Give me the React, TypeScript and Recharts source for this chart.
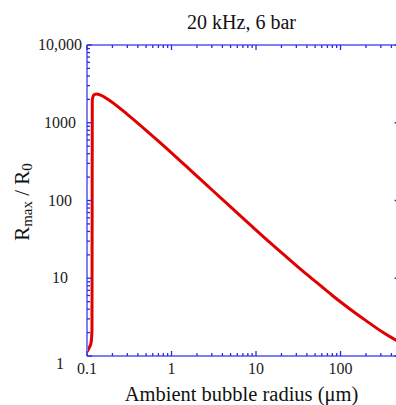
import React from "react";
import { LineChart, Line, XAxis, YAxis } from "recharts";

// bubble radius (um) and Rmax/R0
const radius = [0.1, 0.103, 0.108, 0.112, 0.1145, 0.1155, 0.118, 0.122, 0.13, 0.145, 0.165, 0.2, 0.3, 0.5, 0.75, 1, 1.5, 2, 3, 5, 8.5, 15, 21, 35, 53, 80, 130, 200, 320, 454, 500];
const ratio = [1.13, 1.2, 1.33, 1.5, 2.2, 1950, 2180, 2300, 2340, 2260, 2100, 1825, 1283, 800, 543, 410, 274, 206, 137.5, 82.8, 49, 28.1, 20.4, 12.6, 8.7, 6.0, 4.0, 2.85, 2.0, 1.59, 1.49];

const xMajor = [0.1, 1, 10, 100];
const xMajorLabels = ["0.1", "1", "10", "100"];
const xMinor = [0.2, 0.3, 0.4, 0.5, 0.6, 0.7, 0.8, 0.9, 2, 3, 4, 5, 6, 7, 8, 9, 20, 30, 40, 50, 60, 70, 80, 90, 200, 300, 400];
const yMajor = [1, 10, 100, 1000, 10000];
const yMajorLabels = ["1", "10", "100", "1000", "10,000"];
const yMinor = [2, 3, 4, 5, 6, 7, 8, 9, 20, 30, 40, 50, 60, 70, 80, 90, 200, 300, 400, 500, 600, 700, 800, 900, 2000, 3000, 4000, 5000, 6000, 7000, 8000, 9000];

const data = radius.map((r, i) => ({ r, v: ratio[i] }));

const FONT = "'Liberation Serif', 'Times New Roman', serif";
const AXIS = "#7f7ff2";
const TICK = "#2a2ae2";
const xTicks = [...xMajor, ...xMinor].sort((a, b) => a - b);
const yTicks = [...yMajor, ...yMinor].sort((a, b) => a - b);

const BottomTick = (props: any) => {
    const { x, y, payload } = props;
    const idx = xMajor.indexOf(payload.value);
    const len = idx >= 0 ? 5 : 3;
    return (
        <g>
            <line x1={x} y1={y} x2={x} y2={y - len} stroke={TICK} strokeWidth={1.3} />
            {idx >= 0 && (
                <text x={x} y={374} textAnchor="middle" fontFamily={FONT} fontSize={16} fill="#222">
                    {xMajorLabels[idx]}
                </text>
            )}
        </g>
    );
};

const TopTick = (props: any) => {
    const { x, y, payload } = props;
    const len = xMajor.includes(payload.value) ? 5 : 3;
    return <line x1={x} y1={y} x2={x} y2={y + len} stroke={TICK} strokeWidth={1.3} />;
};

const LeftTick = (props: any) => {
    const { x, y, payload } = props;
    const idx = yMajor.indexOf(payload.value);
    const len = idx >= 0 ? 5 : 3;
    return (
        <g>
            <line x1={x} y1={y} x2={x + len} y2={y} stroke={TICK} strokeWidth={1.3} />
            {idx >= 0 && (
                <text
                    x={60}
                    y={idx === 0 ? y + 13 : y + 5}
                    textAnchor="middle"
                    fontFamily={FONT}
                    fontSize={16}
                    fill="#222"
                >
                    {yMajorLabels[idx]}
                </text>
            )}
        </g>
    );
};

const RightTick = (props: any) => {
    const { x, y, payload } = props;
    const len = yMajor.includes(payload.value) ? 5 : 3;
    return <line x1={x} y1={y} x2={x - len} y2={y} stroke={TICK} strokeWidth={1.3} />;
};

export default function App() {
    return (
        <div
            style={{
                position: "absolute",
                left: 0,
                top: 0,
                width: 396,
                height: 405,
                overflow: "hidden",
                background: "#fff",
            }}
        >
            <LineChart
                width={420}
                height={405}
                data={data}
                margin={{ top: 44, left: 86, right: 19.4, bottom: 48 }}
            >
                <XAxis
                    xAxisId="b"
                    dataKey="r"
                    type="number"
                    scale="log"
                    domain={[0.1, 500]}
                    allowDataOverflow
                    ticks={xTicks}
                    interval={0}
                    height={1}
                    tickSize={0}
                    tickMargin={0}
                    tickLine={false}
                    tick={<BottomTick />}
                    axisLine={{ stroke: AXIS, strokeWidth: 2 }}
                />
                <XAxis
                    xAxisId="t"
                    orientation="top"
                    dataKey="r"
                    type="number"
                    scale="log"
                    domain={[0.1, 500]}
                    allowDataOverflow
                    ticks={xTicks}
                    interval={0}
                    height={1}
                    tickSize={0}
                    tickMargin={0}
                    tickLine={false}
                    tick={<TopTick />}
                    axisLine={{ stroke: AXIS, strokeWidth: 2 }}
                />
                <YAxis
                    yAxisId="l"
                    type="number"
                    scale="log"
                    domain={[1, 10000]}
                    allowDataOverflow
                    ticks={yTicks}
                    interval={0}
                    width={1}
                    tickSize={0}
                    tickMargin={0}
                    tickLine={false}
                    tick={<LeftTick />}
                    axisLine={{ stroke: AXIS, strokeWidth: 2 }}
                />
                <YAxis
                    yAxisId="r"
                    orientation="right"
                    type="number"
                    scale="log"
                    domain={[1, 10000]}
                    allowDataOverflow
                    ticks={yTicks}
                    interval={0}
                    width={1}
                    tickSize={0}
                    tickMargin={0}
                    tickLine={false}
                    tick={<RightTick />}
                    axisLine={{ stroke: AXIS, strokeWidth: 2 }}
                />
                <Line
                    xAxisId="t"
                    yAxisId="r"
                    dataKey="v"
                    stroke="none"
                    dot={false}
                    isAnimationActive={false}
                />
                <Line
                    xAxisId="b"
                    yAxisId="l"
                    type="monotone"
                    dataKey="v"
                    stroke="#e00000"
                    strokeWidth={3}
                    strokeLinejoin="round"
                    dot={false}
                    isAnimationActive={false}
                />
            </LineChart>
            <svg
                width={396}
                height={405}
                style={{ position: "absolute", left: 0, top: 0, pointerEvents: "none" }}
            >
                <text x={241.5} y={29} textAnchor="middle" fontFamily={FONT} fontSize={20} fill="#111">
                    20 kHz, 6 bar
                </text>
                <text x={241.5} y={401} textAnchor="middle" fontFamily={FONT} fontSize={20.5} fill="#111">
                    Ambient bubble radius (μm)
                </text>
                <text
                    transform="translate(29, 202) rotate(-90)"
                    textAnchor="middle"
                    fontFamily={FONT}
                    fontSize={21}
                    fill="#111"
                >
                    R<tspan fontSize={15} dy={3}>max</tspan>
                    <tspan dy={-3}> / R</tspan>
                    <tspan fontSize={15} dy={3}>0</tspan>
                </text>
            </svg>
        </div>
    );
}
